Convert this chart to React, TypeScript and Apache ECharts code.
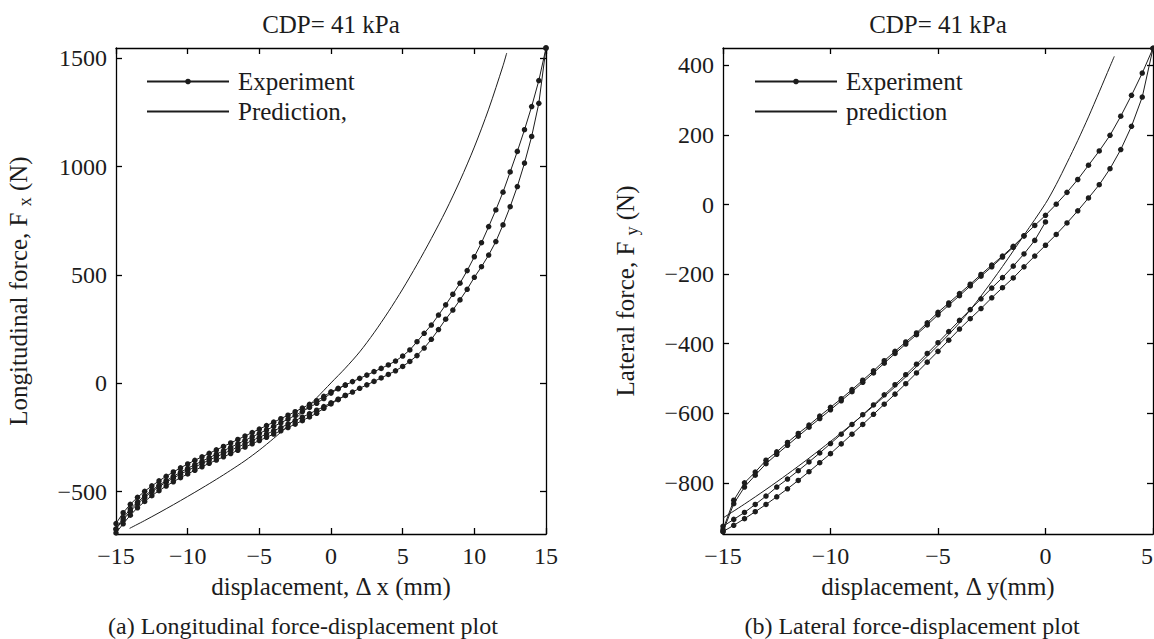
import React, { useEffect, useRef } from 'react';
import * as echarts from 'echarts';

// ---------- Left plot (longitudinal) ----------
const xLeft = [-15,-14.5,-14,-13.5,-13,-12.5,-12,-11.5,-11,-10.5,-10,-9.5,-9,-8.5,-8,-7.5,-7,-6.5,-6,-5.5,-5,-4.5,-4,-3.5,-3,-2.5,-2,-1.5,-1,-0.5,0,0.5,1,1.5,2,2.5,3,3.5,4,4.5,5,5.5,6,6.5,7,7.5,8,8.5,9,9.5,10,10.5,11,11.5,12,12.5,13,13.5,14,14.5,15];
const expLeftUp1 = [-647,-597,-558,-526,-498,-473,-450,-429,-409,-390,-372,-355,-339,-323,-307,-291,-275,-259,-243,-227,-211,-195,-179,-163,-147,-131,-114,-97,-80,-60,-39,
  -23,-8,8,23,38,54,69,85,103,126,154,192,231,269,315,362,411,462,520,584,649,723,800,882,975,1070,1170,1277,1397,1547];
const expLeftDown1 = [-672,-630,-590,-556,-526,-500,-477,-456,-437,-419,-402,-386,-370,-354,-339,-324,-309,-294,-279,-264,-249,-234,-219,-204,-188,-172,-156,-140,-124,-107,-90,
  -73,-56,-40,-23,-7,9,25,41,58,78,101,128,163,203,248,296,338,385,434,489,538,592,654,731,815,908,1016,1139,1292,1547];
const expLeftUp2 = [-672,-620,-580,-548,-519,-493,-470,-449,-429,-410,-392,-375,-359,-343,-327,-311,-295,-279,-263,-247,-231,-215,-199,-182,-165,-148,-130,-111,-92,-70,-45,-25,-8];
const expLeftDown2 = [-690,-648,-608,-574,-545,-518,-495,-474,-454,-435,-418,-401,-385,-369,-354,-339,-324,-309,-294,-279,-264,-249,-234,-219,-204,-188,-172,-155,-138,-115,-95,-75,-56];
const predLeftX = [-14.05,-13,-12,-11,-10,-9,-8,-7,-6,-5,-4,-3,-2,-1,0,1,2,3,4,5,6,7,8,9,10,11,12,12.26];
const predLeftY = [-669,-633,-597,-560,-522,-483,-443,-401,-357,-308,-254,-196,-133,-67,2,70,145,233,330,435,548,668,795,935,1090,1265,1465,1524];
const yTicksLeft = [-500, 0, 500, 1000, 1500];

// ---------- Right plot (lateral) ----------
const xRight = [-15,-14.5,-14,-13.5,-13,-12.5,-12,-11.5,-11,-10.5,-10,-9.5,-9,-8.5,-8,-7.5,-7,-6.5,-6,-5.5,-5,-4.5,-4,-3.5,-3,-2.5,-2,-1.5,-1,-0.5,0,0.5,1,1.5,2,2.5,3,3.5,4,4.5,5];
const expRightUp1 = [-934,-850,-800,-769,-735,-711,-684,-658,-634,-608,-583,-558,-532,-505,-478,-449,-422,-395,-369,-340,-310,-283,-256,-229,-201,-174,-148,-120,-90,-60,-31,1,35,72,113,154,199,254,314,378,449];
const expRightUp2 = [-940,-860,-812,-778,-745,-718,-692,-666,-640,-615,-590,-564,-538,-511,-484,-456,-428,-401,-374,-346,-317,-289,-262,-234,-206,-179,-151,-123,-90];
const expRightDown = [-940,-922,-903,-883,-862,-840,-817,-793,-768,-742,-716,-688,-660,-632,-603,-574,-545,-515,-484,-453,-422,-390,-358,-328,-299,-268,-239,-211,-179,-148,-117,-86,-53,-18,19,57,103,158,225,309,449];
const expRightMid = [-925,-905,-885,-862,-838,-812,-789,-765,-740,-714,-687,-660,-632,-604,-576,-547,-518,-489,-459,-428,-397,-365,-333,-302,-271,-240,-210,-177,-142,-103,-50];
const predRightX = [-15,-14,-13,-12,-11,-10,-9,-8,-7,-6,-5,-4,-3,-2,-1,0,0.5,1,1.5,2,2.5,3,3.2];
const predRightY = [-901,-861,-819,-775,-729,-681,-631,-579,-524,-466,-405,-340,-263,-178,-88,3,58,120,184,252,324,397,426];
const yTicksRight = [-800, -600, -400, -200, 0, 200, 400];

const FONT = "'Liberation Serif', 'Times New Roman', serif";
const INK = '#1c1c1c';

const pairs = (xs: number[], ys: number[]) => ys.map((y, i) => [xs[i], y]);
const minus = (v: number) => String(v).replace('-', '\u2212');

function expSeries(xs: number[], ys: number[], gi: number) {
  return {
    type: 'line', name: 'Experiment', xAxisIndex: gi * 2, yAxisIndex: gi * 2,
    data: pairs(xs, ys), symbol: 'circle', symbolSize: 5.5, showSymbol: true,
    lineStyle: { color: INK, width: 1 }, itemStyle: { color: INK }, z: 3,
  };
}
function predSeries(name: string, xs: number[], ys: number[], gi: number) {
  return {
    type: 'line', name, xAxisIndex: gi * 2, yAxisIndex: gi * 2,
    data: pairs(xs, ys), symbol: 'none', smooth: 0.3,
    lineStyle: { color: INK, width: 1 }, itemStyle: { color: INK }, z: 2,
  };
}

const axisLineStyle = { color: '#000', width: 1.3 };
const labelStyle = { fontSize: 24, fontFamily: FONT, color: INK };

function xAxes(gi: number, min: number, max: number, name: string, alignMax: string) {
  return [
    {
      type: 'value', gridIndex: gi, position: 'bottom', min, max, interval: 5,
      axisLine: { show: true, onZero: false, lineStyle: axisLineStyle },
      axisTick: { show: true, inside: true, length: 6, lineStyle: axisLineStyle },
      axisLabel: { ...labelStyle, margin: 10, formatter: minus, alignMaxLabel: alignMax },
      splitLine: { show: false },
      name, nameLocation: 'middle', nameGap: 40,
      nameTextStyle: { fontSize: 25, fontFamily: FONT, color: INK },
    },
    {
      type: 'value', gridIndex: gi, position: 'top', min, max, interval: 5,
      axisLine: { show: true, onZero: false, lineStyle: axisLineStyle },
      axisTick: { show: true, inside: true, length: 6, lineStyle: axisLineStyle },
      axisLabel: { show: false }, splitLine: { show: false },
    },
  ];
}
function yAxes(gi: number, min: number, max: number, ticks: number[], main: string, sub: string) {
  return [
    {
      type: 'value', gridIndex: gi, position: 'left', min, max,
      axisLine: { show: true, onZero: false, lineStyle: axisLineStyle },
      axisTick: { show: true, inside: true, length: 6, lineStyle: axisLineStyle, customValues: ticks },
      axisLabel: { ...labelStyle, margin: 9, formatter: minus, customValues: ticks },
      splitLine: { show: false },
      name: `{m|${main} }{s|${sub}}{m| (N)}`, nameLocation: 'middle', nameGap: 73,
      nameTextStyle: {
        rich: {
          m: { fontSize: 25, fontFamily: FONT, color: INK, padding: [0, 0, 12, 0] },
          s: { fontSize: 18, fontFamily: FONT, color: INK },
        },
      },
    },
    {
      type: 'value', gridIndex: gi, position: 'right', min, max,
      axisLine: { show: true, onZero: false, lineStyle: axisLineStyle },
      axisTick: { show: true, inside: true, length: 6, lineStyle: axisLineStyle, customValues: ticks },
      axisLabel: { show: false }, splitLine: { show: false },
    },
  ];
}

function legend(left: number, predName: string) {
  return {
    orient: 'vertical', left, top: 69, padding: 0, itemWidth: 82, itemHeight: 7, itemGap: 5,
    selectedMode: false,
    data: ['Experiment', { name: predName, itemStyle: { opacity: 0 } }],
    textStyle: { fontSize: 25, fontFamily: FONT, color: INK, lineHeight: 24, padding: [0, 0, 0, 4] },
  };
}

function text(x: number, y: number, t: string, size: number) {
  return {
    type: 'text', x, y,
    style: { text: t, font: `${size}px ${FONT}`, fill: INK, textAlign: 'center', textVerticalAlign: 'middle' },
  };
}

export default function App() {
  const ref = useRef<HTMLDivElement>(null);
  useEffect(() => {
    if (!ref.current) return;
    const chart = echarts.init(ref.current, undefined, { renderer: 'svg' });
    chart.setOption({
      animation: false,
      backgroundColor: '#fff',
      grid: [
        { left: 116, top: 48, width: 430, height: 486, containLabel: false, outerBoundsMode: 'none' },
        { left: 723, top: 48, width: 430, height: 486, containLabel: false, outerBoundsMode: 'none' },
      ],
      xAxis: [
        ...xAxes(0, -15, 15, 'displacement, \u0394 x (mm)', 'center'),
        ...xAxes(1, -15, 5, 'displacement, \u0394 y(mm)', 'right'),
      ],
      yAxis: [
        ...yAxes(0, -695, 1547, yTicksLeft, 'Longitudinal force, F', 'x'),
        ...yAxes(1, -947, 450, yTicksRight, 'Lateral force, F', 'y'),
      ],
      legend: [legend(146, 'Prediction,'), legend(754, 'prediction')],
      series: [
        predSeries('Prediction,', predLeftX, predLeftY, 0),
        expSeries(xLeft, expLeftUp1, 0),
        expSeries(xLeft, expLeftDown1, 0),
        expSeries(xLeft.slice(0, expLeftUp2.length), expLeftUp2, 0),
        expSeries(xLeft.slice(0, expLeftDown2.length), expLeftDown2, 0),
        predSeries('prediction', predRightX, predRightY, 1),
        expSeries(xRight, expRightUp1, 1),
        expSeries(xRight.slice(0, expRightUp2.length), expRightUp2, 1),
        expSeries(xRight, expRightDown, 1),
        expSeries(xRight.slice(0, expRightMid.length), expRightMid, 1),
      ],
      graphic: [
        text(331, 24, 'CDP= 41 kPa', 25),
        text(938, 24, 'CDP= 41 kPa', 25),
        text(303, 626, '(a) Longitudinal force-displacement plot', 24),
        text(912, 626, '(b) Lateral force-displacement plot', 24),
      ],
    });
    return () => chart.dispose();
  }, []);
  return <div ref={ref} style={{ position: 'absolute', left: 0, top: 0, width: 1154, height: 639 }} />;
}
